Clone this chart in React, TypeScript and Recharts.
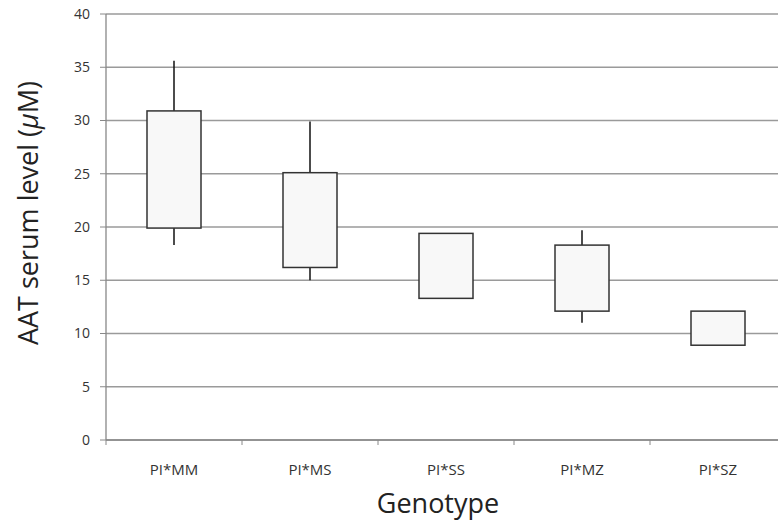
import React from 'react';
import { ComposedChart, Bar, XAxis, YAxis, CartesianGrid, Label } from 'recharts';

const categories = ['PI*MM', 'PI*MS', 'PI*SS', 'PI*MZ', 'PI*SZ'];
const whiskerLow = [18.3, 15.0, 13.3, 11.0, 8.9];
const q1 = [19.9, 16.2, 13.3, 12.1, 8.9];
const q3 = [30.9, 25.1, 19.4, 18.3, 12.1];
const whiskerHigh = [35.6, 29.9, 19.4, 19.7, 12.1];
const yTicks = [0, 5, 10, 15, 20, 25, 30, 35, 40];

const data = categories.map((name, i) => ({
  x: i + 0.5,
  name,
  lo: whiskerLow[i],
  q1: q1[i],
  q3: q3[i],
  hi: whiskerHigh[i],
  range: [whiskerLow[i], whiskerHigh[i]],
}));

const xTicks = [0, 0.5, 1, 1.5, 2, 2.5, 3, 3.5, 4, 4.5];
const FONT = '"Open Sans", sans-serif';

const BoxShape = (props: any) => {
  const { x, y, width, height, payload } = props;
  const top = Math.min(y, y + height);
  const bottom = Math.max(y, y + height);
  const { lo, hi } = payload;
  const k = (bottom - top) / (hi - lo);
  const yOf = (v: number) => top + (hi - v) * k;
  const cx = x + width / 2;
  const yq3 = yOf(payload.q3);
  const yq1 = yOf(payload.q1);
  return (
    <g>
      {payload.hi > payload.q3 && (
        <line x1={cx} x2={cx} y1={yOf(payload.hi)} y2={yq3} stroke="#111" strokeWidth={1.5} />
      )}
      {payload.lo < payload.q1 && (
        <line x1={cx} x2={cx} y1={yq1} y2={yOf(payload.lo)} stroke="#111" strokeWidth={1.5} />
      )}
      <rect x={x} y={yq3} width={width} height={yq1 - yq3} fill="#f8f8f8" stroke="#333" strokeWidth={1.5} />
    </g>
  );
};

const XTick = (props: any) => {
  const { x, y, payload } = props;
  const v = payload.value;
  if (Number.isInteger(v)) {
    return <line x1={x} x2={x} y1={y} y2={y + 5} stroke="#888" />;
  }
  return (
    <text x={x} y={y + 35} textAnchor="middle" fontSize={15} fontFamily={FONT} fill="#333">
      {categories[v - 0.5]}
    </text>
  );
};

const YTitle = () => (
  <text
    x={38}
    y={213}
    transform="rotate(-90 38 213)"
    textAnchor="middle"
    fontSize={27}
    fontFamily={FONT}
    fill="#222"
  >
    AAT serum level (<tspan fontStyle="italic">μ</tspan>M)
  </text>
);

const XTitle = () => (
  <text x={438} y={513} textAnchor="middle" fontSize={27} fontFamily={FONT} fill="#222">
    Genotype
  </text>
);

export default function App() {
  return (
    <div
      style={{
        position: 'absolute',
        left: 0,
        top: 0,
        width: 778,
        height: 528,
        overflow: 'hidden',
        background: '#fff',
      }}
    >
      <ComposedChart width={786} height={528} data={data} margin={{ top: 14, right: 0, bottom: 0, left: 0 }}>
        <CartesianGrid vertical={false} stroke="#9a9a9a" strokeWidth={1.3} />
        <XAxis
          dataKey="x"
          type="number"
          domain={[0, 5]}
          ticks={xTicks}
          interval={0}
          height={88}
          tickSize={0}
          tickMargin={0}
          tickLine={false}
          tick={<XTick />}
          axisLine={{ stroke: '#888', strokeWidth: 1.3 }}
        >
          <Label content={<XTitle />} />
        </XAxis>
        <YAxis
          type="number"
          domain={[0, 40]}
          ticks={yTicks}
          interval={0}
          width={106}
          tickSize={6}
          tickMargin={10}
          tick={{ fontSize: 14, fontFamily: FONT, fill: '#333' }}
          tickLine={{ stroke: '#888' }}
          axisLine={{ stroke: '#888', strokeWidth: 1.3 }}
        >
          <Label content={<YTitle />} />
        </YAxis>
        <Bar dataKey="range" barSize={54} shape={<BoxShape />} isAnimationActive={false} />
      </ComposedChart>
    </div>
  );
}
